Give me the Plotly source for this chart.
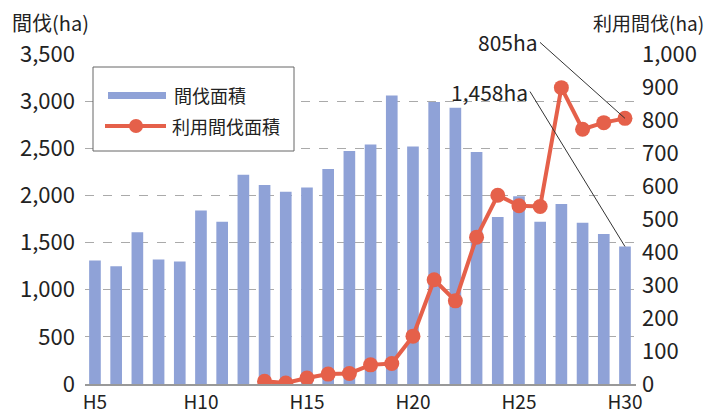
import plotly.graph_objects as go

years = ["H%d" % y for y in range(5, 31)]
thinning_area = [1310, 1250, 1610, 1320, 1300, 1840, 1720, 2220, 2110, 2040,
                 2085, 2280, 2470, 2540, 3060, 2520, 2990, 2930, 2460, 1770,
                 1990, 1720, 1910, 1710, 1590, 1458]
used_years = ["H%d" % y for y in range(13, 31)]
used_area = [8, 3, 18, 30, 32, 58, 62, 145, 316, 252, 445, 572, 540, 538,
             898, 772, 792, 805]
tick_labels = ["H5", "H10", "H15", "H20", "H25", "H30"]

BAR = "#8FA2D7"
LINE = "#E5604A"
FONT = "Noto Sans CJK JP"
TXT = "#222222"

fig = go.Figure()
fig.add_trace(go.Bar(x=years, y=thinning_area, name="間伐面積",
                     marker=dict(color=BAR, line=dict(width=0)),
                     yaxis="y", showlegend=False))
fig.add_trace(go.Scatter(x=used_years, y=used_area, name="利用間伐面積",
                         mode="lines+markers",
                         line=dict(color=LINE, width=4),
                         marker=dict(color=LINE, size=15),
                         yaxis="y2", showlegend=False))

fig.update_layout(
    width=708, height=414,
    margin=dict(l=85, r=72, t=54, b=30, autoexpand=False),
    paper_bgcolor="white", plot_bgcolor="white",
    bargap=0.45,
    font=dict(family=FONT, size=20, color=TXT),
    xaxis=dict(type="category", range=[-0.47, 25.52], automargin=False,
               tickmode="array", tickvals=tick_labels, ticktext=tick_labels,
               showgrid=False, showline=True, linecolor="#999999", linewidth=1.5,
               ticks="", ticklabelstandoff=0, tickfont=dict(size=19, color=TXT)),
    yaxis=dict(range=[0, 3500], dtick=500, tickformat=",d", automargin=False,
               showgrid=True, gridcolor="#aaaaaa", griddash="dash", gridwidth=1,
               zeroline=False, showline=False, ticks="", ticklabelstandoff=9,
               tickfont=dict(size=22, color=TXT)),
    yaxis2=dict(range=[0, 1000], dtick=100, tickformat=",d", overlaying="y",
                side="right", showgrid=False, zeroline=False, ticks="",
                automargin=False, ticklabelstandoff=5,
                tickfont=dict(size=22, color=TXT)),
)

# axis titles
def px_x(p):
    return (p - 85) / 551.0

def px_y(p):
    return (384 - p) / 330.0

fig.add_annotation(text="間伐(ha)", xref="paper", yref="paper",
                   x=px_x(10), y=px_y(23), xanchor="left", yanchor="middle",
                   showarrow=False, font=dict(size=20, color=TXT))
fig.add_annotation(text="利用間伐(ha)", xref="paper", yref="paper",
                   x=px_x(706), y=px_y(23), xanchor="right", yanchor="middle",
                   showarrow=False, font=dict(size=19, color=TXT))

# callouts
fig.add_annotation(text="805ha", x=years[-1], y=used_area[-1], yref="y2",
                   ax=-85, ay=-76, xanchor="right", yanchor="middle",
                   showarrow=True, arrowhead=0, arrowwidth=1, arrowcolor="#333333",
                   font=dict(size=21, color=TXT))
fig.add_annotation(text="1,458ha", x=years[-1], y=thinning_area[-1], yref="y",
                   ax=-95, ay=-155, xanchor="right", yanchor="middle",
                   showarrow=True, arrowhead=0, arrowwidth=1, arrowcolor="#333333",
                   font=dict(size=21, color=TXT))

# legend box (drawn manually to mimic wide swatches)
fig.add_shape(type="rect", xref="paper", yref="paper",
              x0=px_x(93), x1=px_x(294), y0=px_y(151), y1=px_y(67),
              line=dict(color="#666666", width=1), fillcolor="white")
fig.add_shape(type="rect", xref="paper", yref="paper",
              x0=px_x(108), x1=px_x(166), y0=px_y(99), y1=px_y(92),
              line=dict(width=0), fillcolor=BAR)
fig.add_shape(type="line", xref="paper", yref="paper",
              x0=px_x(105), x1=px_x(166), y0=px_y(126), y1=px_y(126),
              line=dict(color=LINE, width=4))
fig.add_shape(type="circle", xref="paper", yref="paper",
              x0=px_x(129), x1=px_x(143), y0=px_y(133), y1=px_y(119),
              line=dict(color=LINE, width=0), fillcolor=LINE)
fig.add_annotation(text="間伐面積", xref="paper", yref="paper",
                   x=px_x(172), y=px_y(95), xanchor="left", yanchor="middle",
                   showarrow=False, font=dict(size=18, color=TXT))
fig.add_annotation(text="利用間伐面積", xref="paper", yref="paper",
                   x=px_x(170), y=px_y(126), xanchor="left", yanchor="middle",
                   showarrow=False, font=dict(size=18, color=TXT))

fig.write_html("out.html", config={"displayModeBar": False},
               post_script="document.body.style.margin='0';document.body.style.overflow='hidden';")
